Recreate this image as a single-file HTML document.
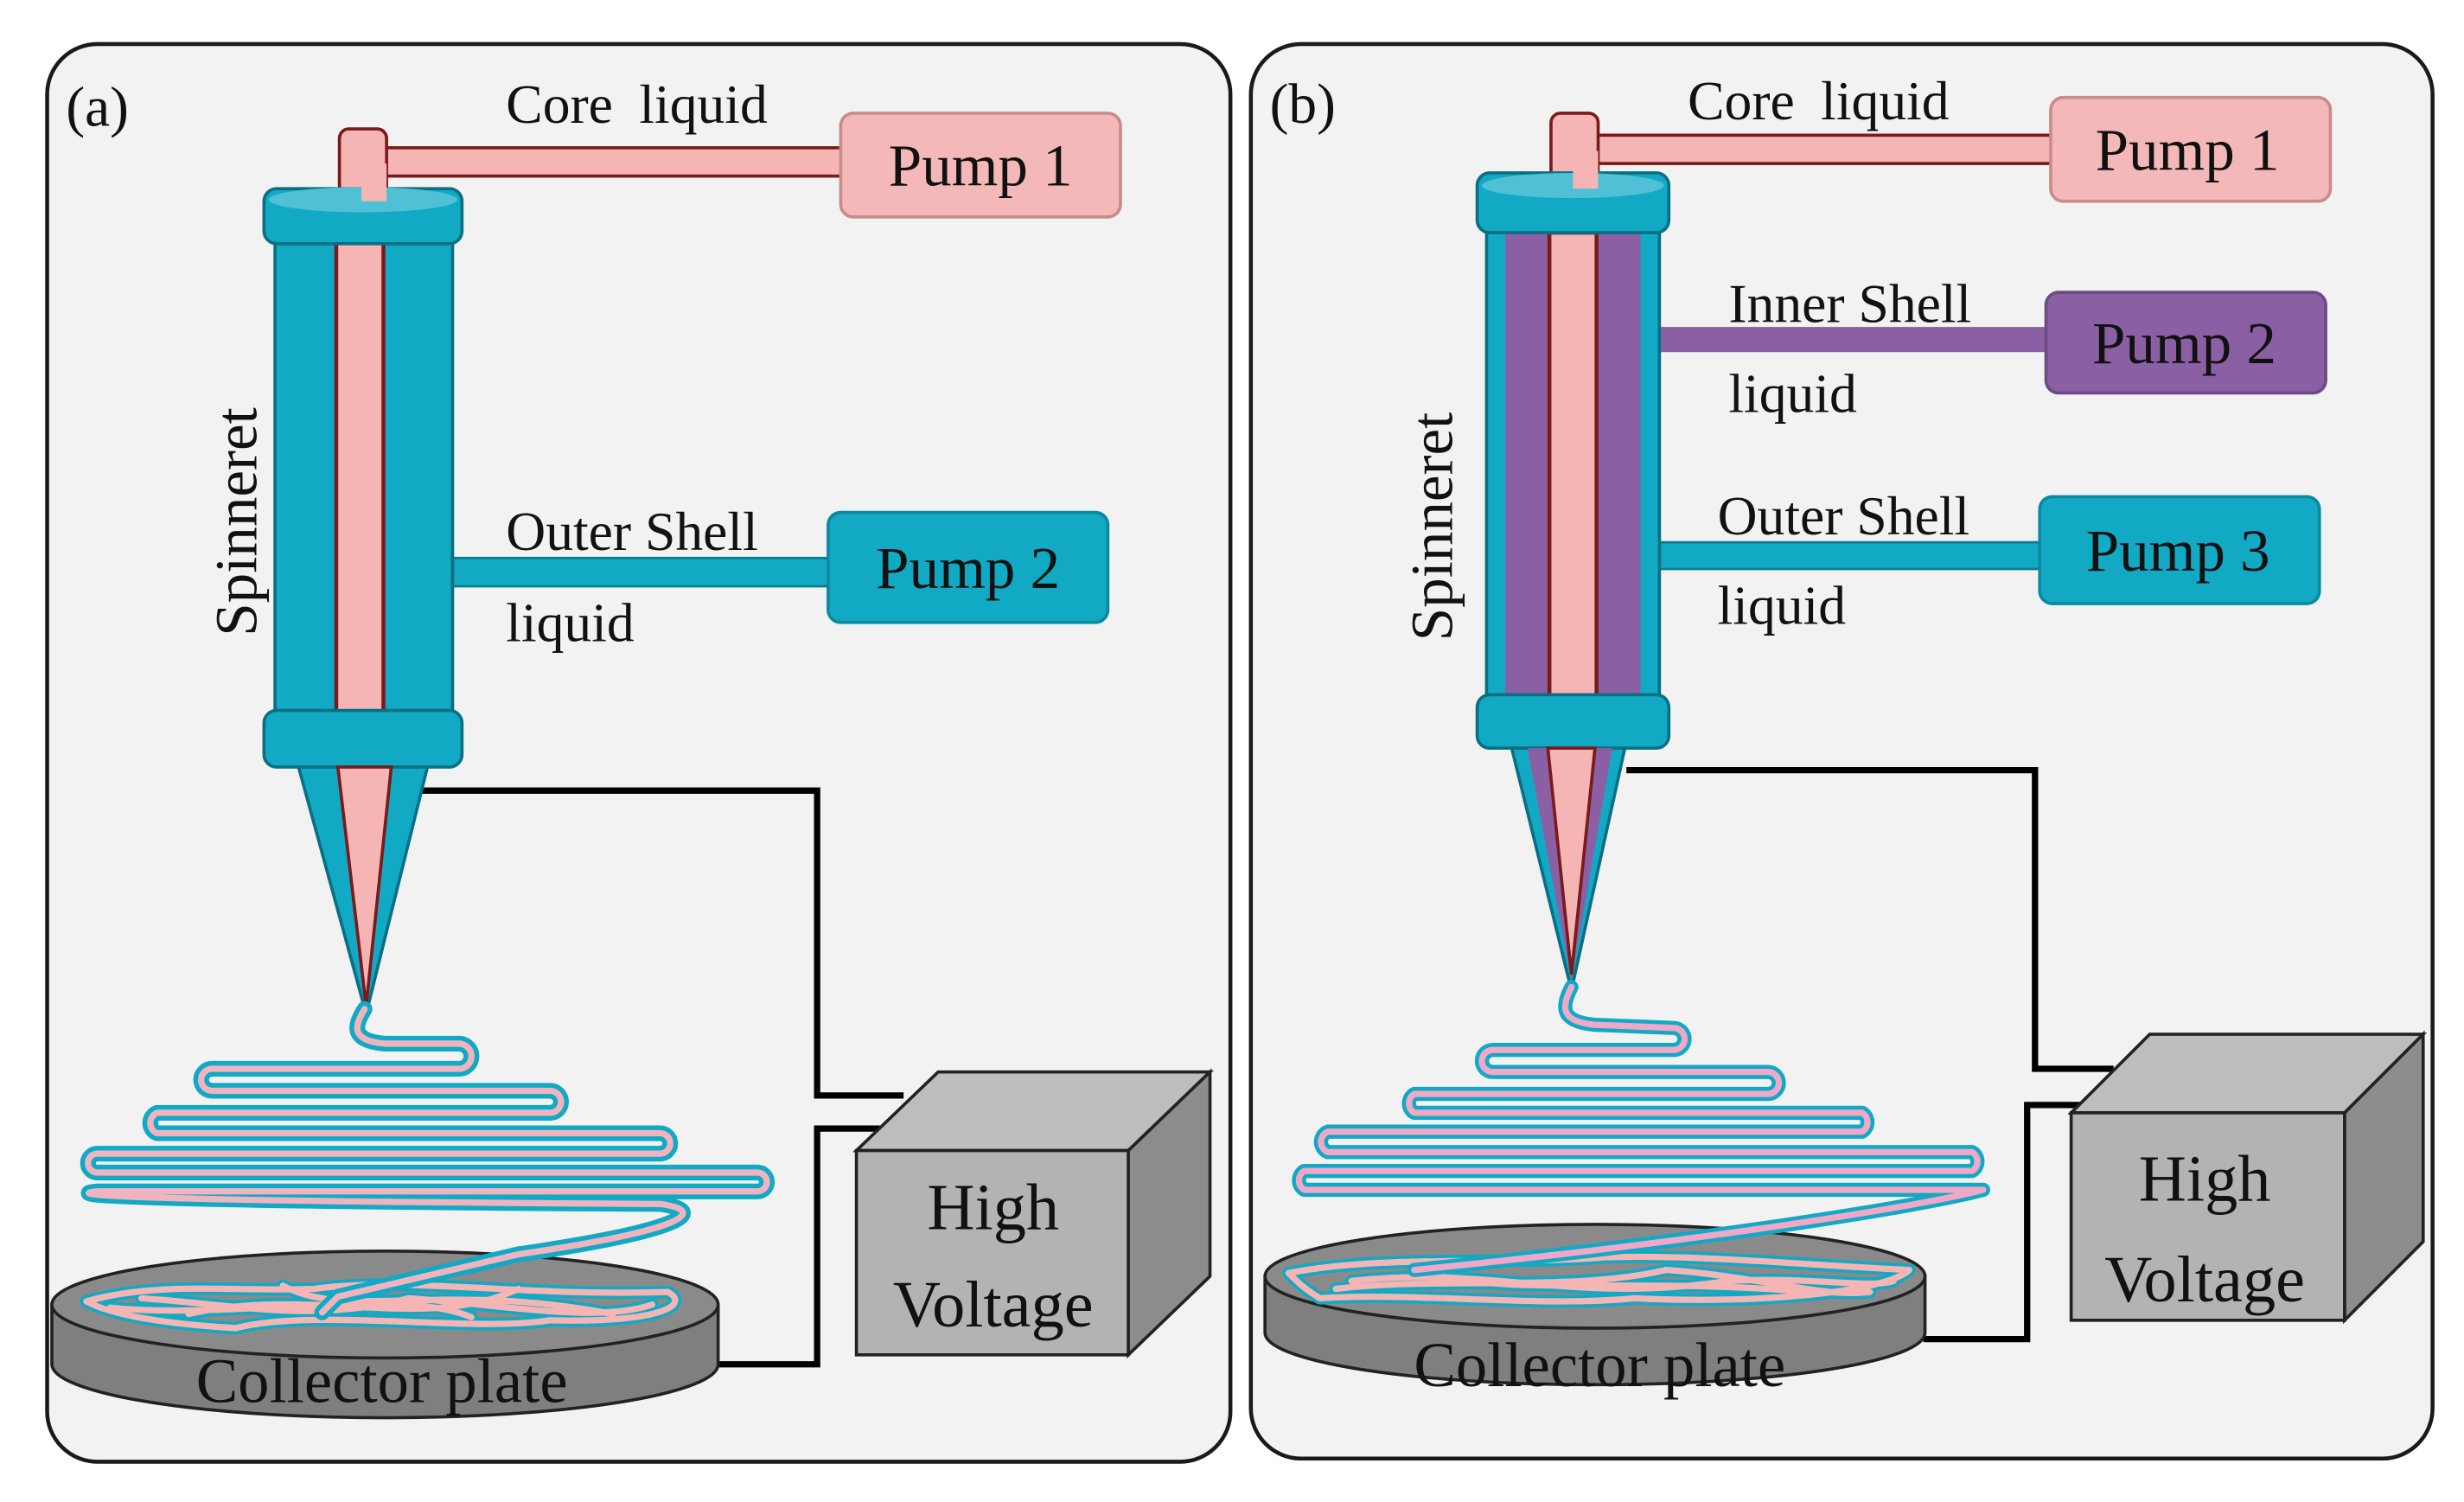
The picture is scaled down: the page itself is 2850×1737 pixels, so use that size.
<!DOCTYPE html>
<html><head><meta charset="utf-8"><style>
html,body{margin:0;padding:0;background:#fff;}
svg{display:block;}
text{font-family:"Liberation Serif",serif;fill:#111;}
</style></head><body>
<svg width="2850" height="1737" viewBox="0 0 1568 955.6" xmlns="http://www.w3.org/2000/svg">
<defs>
<path id="fa" d="M232 642 C226 652 222 662 245 664 L292 664 A8 8 0 0 1 292 680 L135 680 A7 7 0 0 0 135 694 L350 694 A7 7 0 0 1 350 708 L100 708 A7 7 0 0 0 100 721 L420 721 A6.5 6.5 0 0 1 420 734 L62 734 A6 6 0 0 0 62 746 L482 746 A6 6 0 0 1 482 758 L62 758 C40 760 70 764 420 766 C450 770 440 782 330 798 L215 825 L205 835"/>
<path id="fb" d="M1000 628 C994 640 992 650 1015 652 L1065 654 A7 7 0 0 1 1065 668 L950 668 A7 7 0 0 0 950 682 L1125 682 A7 7 0 0 1 1125 696 L900 696 A7 7 0 0 0 900 708 L1185 708 A7 7 0 0 1 1185 720 L845 720 A7 7 0 0 0 845 733 L1255 733 A7 7 0 0 1 1255 745 L830 745 A7 7 0 0 0 830 757 L1262 757 C1220 768 1080 790 900 808"/>
<path id="pa" d="M55 828 C100 815 150 822 200 820 C260 812 330 825 425 822 C440 830 420 842 350 840 C300 848 200 832 150 845 C100 842 70 836 55 828 M90 826 C150 830 200 842 260 826 C320 830 380 842 415 830 M120 836 C200 818 270 848 330 820 M70 832 C150 840 250 818 300 838 M180 818 C220 840 280 815 390 836"/>
<path id="pb" d="M820 810 C880 798 960 805 1020 800 C1080 798 1150 805 1215 808 C1200 822 1120 830 1040 826 C980 832 900 822 840 826 C830 820 825 815 820 810 M860 815 C950 805 1000 830 1100 815 C1150 812 1190 820 1205 815 M850 820 C920 812 1000 822 1060 808 C1120 812 1160 826 1190 822 M900 808 C960 826 1040 812 1150 822"/>
</defs>
<rect x="0" y="0" width="1568" height="956" fill="#fff"/>
<rect x="30" y="28" width="753" height="902" rx="32" fill="#f2f2f2" stroke="#1a1a1a" stroke-width="2.5"/>
<rect x="796" y="28" width="752" height="900" rx="32" fill="#f2f2f2" stroke="#1a1a1a" stroke-width="2.5"/>

<!-- ========== PANEL A ========== -->
<text x="42" y="80" font-size="36">(a)</text>
<polyline points="265,503 520,503 520,697 575,697" fill="none" stroke="#000" stroke-width="4"/>
<polyline points="456,868 520,868 520,718 560,718" fill="none" stroke="#000" stroke-width="4"/>
<rect x="230" y="94" width="307" height="18" fill="#f5b5b5" stroke="#7a1a1a" stroke-width="2"/>
<rect x="216" y="82" width="30" height="46" rx="6" fill="#f5b5b5" stroke="#7a1a1a" stroke-width="2"/>
<rect x="535" y="72" width="178" height="66" rx="8" fill="#f5b8b8" stroke="#c98a8a" stroke-width="2"/>
<text x="624" y="118" font-size="38" text-anchor="middle">Pump 1</text>
<text x="322" y="78" font-size="35" word-spacing="8">Core liquid</text>
<rect x="284" y="355" width="245" height="18" fill="#12a9c4" stroke="#0a7c90" stroke-width="1.5"/>
<rect x="527" y="326" width="178" height="70" rx="8" fill="#12a9c4" stroke="#0a8aa0" stroke-width="2"/>
<text x="616" y="374" font-size="38" text-anchor="middle">Pump 2</text>
<text x="322" y="350" font-size="35">Outer Shell</text>
<text x="322" y="408" font-size="35">liquid</text>
<rect x="175" y="145" width="113" height="315" fill="#12a9c4" stroke="#0a6f82" stroke-width="2"/>
<rect x="214" y="150" width="30" height="315" fill="#f5b5b5" stroke="#7a1a1a" stroke-width="2.5"/>
<rect x="168" y="120" width="126" height="35" rx="8" fill="#12a9c4" stroke="#0a6f82" stroke-width="2"/>
<ellipse cx="231" cy="127" rx="60" ry="8" fill="#4fc0d6"/>
<rect x="230" y="104" width="16" height="24" fill="#f5b5b5"/>
<rect x="168" y="452" width="126" height="36" rx="8" fill="#12a9c4" stroke="#0a6f82" stroke-width="2"/>
<polygon points="190,488 272,488 233,645" fill="#12a9c4" stroke="#0a6f82" stroke-width="2"/>
<polygon points="215,488 249,488 233,640" fill="#f5b5b5" stroke="#7a1a1a" stroke-width="2"/>
<text transform="translate(163,332) rotate(-90)" font-size="38" text-anchor="middle">Spinneret</text>
<path d="M33 830 L33 868 A212 34 0 0 0 457 868 L457 830 Z" fill="#7f7f7f" stroke="#222" stroke-width="2"/>
<ellipse cx="245" cy="830" rx="212" ry="34" fill="#8a8a8a" stroke="#222" stroke-width="2"/>
<text x="243" y="892" font-size="40" text-anchor="middle">Collector plate</text>
<g fill="none" stroke-linecap="round" stroke-linejoin="round">
<use href="#pa" stroke="#12a9c4" stroke-width="8"/>
<use href="#pa" stroke="#f5b5b5" stroke-width="4"/>
<use href="#fa" stroke="#12a9c4" stroke-width="10"/>
<use href="#fa" stroke="#f0b4c0" stroke-width="4"/>
</g>
<polygon points="545,732 597,682 770,682 718,732" fill="#bdbdbd" stroke="#222" stroke-width="2"/>
<polygon points="718,732 770,682 770,812 718,862" fill="#8c8c8c" stroke="#222" stroke-width="2"/>
<rect x="545" y="732" width="173" height="130" fill="#b3b3b3" stroke="#222" stroke-width="2"/>
<text x="632" y="782" font-size="42" text-anchor="middle">High</text>
<text x="632" y="844" font-size="42" text-anchor="middle">Voltage</text>

<!-- ========== PANEL B ========== -->
<text x="808" y="78" font-size="36">(b)</text>
<polyline points="1035,490 1295,490 1295,680 1345,680" fill="none" stroke="#000" stroke-width="4"/>
<polyline points="1224,852 1290,852 1290,703 1325,703" fill="none" stroke="#000" stroke-width="4"/>
<rect x="1000" y="86" width="307" height="18" fill="#f5b5b5" stroke="#7a1a1a" stroke-width="2"/>
<rect x="987" y="72" width="30" height="46" rx="6" fill="#f5b5b5" stroke="#7a1a1a" stroke-width="2"/>
<rect x="1305" y="62" width="178" height="66" rx="8" fill="#f5b8b8" stroke="#c98a8a" stroke-width="2"/>
<text x="1392" y="108" font-size="38" text-anchor="middle">Pump 1</text>
<text x="1074" y="76" font-size="35" word-spacing="8">Core liquid</text>
<rect x="1036" y="208" width="268" height="16" fill="#8b5fa3"/>
<rect x="1302" y="186" width="178" height="64" rx="8" fill="#8b5fa3" stroke="#6e4a85" stroke-width="2"/>
<text x="1390" y="231" font-size="38" text-anchor="middle">Pump 2</text>
<text x="1100" y="205" font-size="35">Inner Shell</text>
<text x="1100" y="262" font-size="35">liquid</text>
<rect x="1054" y="345" width="246" height="17" fill="#12a9c4" stroke="#0a7c90" stroke-width="1.5"/>
<rect x="1298" y="316" width="178" height="68" rx="8" fill="#12a9c4" stroke="#0a8aa0" stroke-width="2"/>
<text x="1386" y="363" font-size="38" text-anchor="middle">Pump 3</text>
<text x="1093" y="340" font-size="35">Outer Shell</text>
<text x="1093" y="397" font-size="35">liquid</text>
<rect x="946" y="140" width="110" height="310" fill="#12a9c4" stroke="#0a6f82" stroke-width="2"/>
<rect x="958" y="148" width="86" height="302" fill="#8b5fa3"/>
<rect x="986" y="148" width="30" height="305" fill="#f5b5b5" stroke="#7a1a1a" stroke-width="2.5"/>
<rect x="940" y="110" width="122" height="38" rx="8" fill="#12a9c4" stroke="#0a6f82" stroke-width="2"/>
<ellipse cx="1001" cy="118" rx="58" ry="8" fill="#4fc0d6"/>
<rect x="1001" y="96" width="16" height="24" fill="#f5b5b5"/>
<rect x="940" y="442" width="122" height="34" rx="8" fill="#12a9c4" stroke="#0a6f82" stroke-width="2"/>
<polygon points="962,476 1034,476 1000,630" fill="#12a9c4" stroke="#0a6f82" stroke-width="2"/>
<polygon points="972,476 1026,476 1000,624" fill="#8b5fa3"/>
<polygon points="985,476 1015,476 1000,620" fill="#f5b5b5" stroke="#7a1a1a" stroke-width="2"/>
<text transform="translate(924,335) rotate(-90)" font-size="38" text-anchor="middle">Spinneret</text>
<path d="M805 812 L805 848 A210 33 0 0 0 1225 848 L1225 812 Z" fill="#7f7f7f" stroke="#222" stroke-width="2"/>
<ellipse cx="1015" cy="812" rx="210" ry="33" fill="#8a8a8a" stroke="#222" stroke-width="2"/>
<text x="1018" y="882" font-size="40" text-anchor="middle">Collector plate</text>
<g fill="none" stroke-linecap="round" stroke-linejoin="round">
<use href="#pb" stroke="#12a9c4" stroke-width="8"/>
<use href="#pb" stroke="#f5b5b5" stroke-width="4"/>
<use href="#fb" stroke="#12a9c4" stroke-width="9"/>
<use href="#fb" stroke="#f0a8c8" stroke-width="4"/>
</g>
<polygon points="1318,708 1368,658 1542,658 1492,708" fill="#bdbdbd" stroke="#222" stroke-width="2"/>
<polygon points="1492,708 1542,658 1542,790 1492,840" fill="#8c8c8c" stroke="#222" stroke-width="2"/>
<rect x="1318" y="708" width="174" height="132" fill="#b3b3b3" stroke="#222" stroke-width="2"/>
<text x="1403" y="764" font-size="42" text-anchor="middle">High</text>
<text x="1403" y="828" font-size="42" text-anchor="middle">Voltage</text>
</svg>
</body></html>
